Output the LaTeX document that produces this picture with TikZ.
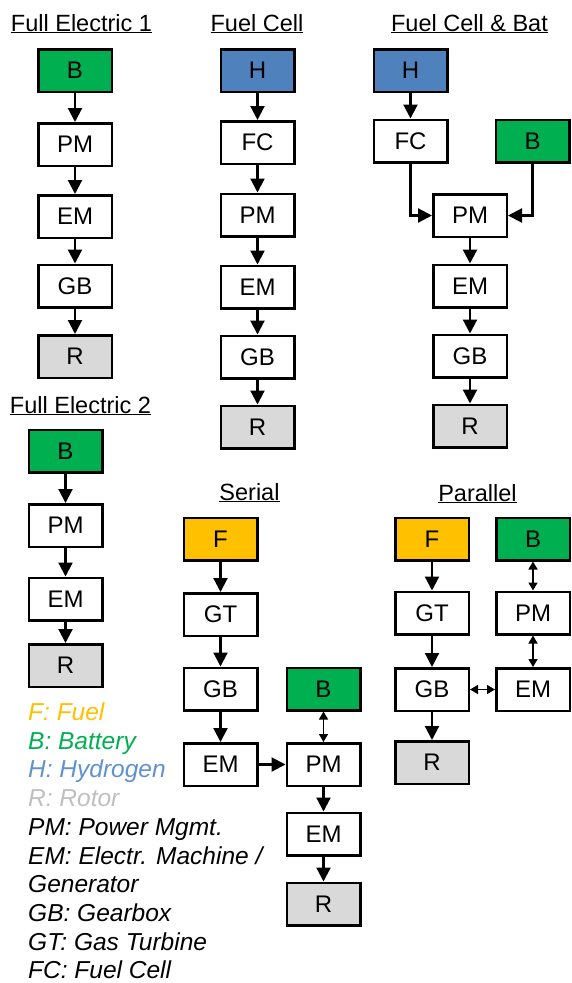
\documentclass[tikz,border=0pt]{standalone}
\usepackage{fontspec}
\setmainfont{Liberation Sans}
\usetikzlibrary{arrows.meta}
\definecolor{batgreen}{RGB}{0,176,80}
\definecolor{hydblue}{RGB}{79,129,189}
\definecolor{fuelorange}{RGB}{255,192,0}
\definecolor{rotorgray}{RGB}{217,217,217}
\definecolor{legblue}{RGB}{96,146,208}
\definecolor{leggray}{RGB}{191,191,191}
\begin{document}
\begin{tikzpicture}[x=1pt,y=-1pt,>={Triangle[width=14pt,length=14pt]},
	blk/.style={draw,line width=2.5pt,minimum width=73.5pt,minimum height=42.5pt,inner sep=0pt,font=\fontsize{24}{28}\selectfont},
	bat/.style={blk,fill=batgreen},
	hyd/.style={blk,fill=hydblue},
	fuel/.style={blk,fill=fuelorange},
	rot/.style={blk,fill=rotorgray},
	flow/.style={->,line width=2.2pt},
	both/.style={{Triangle[width=9pt,length=8pt]}-{Triangle[width=9pt,length=8pt]},line width=1.4pt},
	head/.style={anchor=base,font=\fontsize{23.5}{28}\selectfont},
	leg/.style={anchor=base west,inner sep=0pt,font=\fontsize{24.5}{28}\selectfont\itshape}]
		\useasboundingbox (0,0) rectangle (571,983);
		% Full Electric 1
		\node[head] (fe1t) at (81.5,31) {\underline{Full Electric 1}};
		\node[bat] (fe1b) at (75,70.5) {B};
		\node[blk] (fe1pm) at (75,144.5) {PM};
		\node[blk] (fe1em) at (75,216.5) {EM};
		\node[blk] (fe1gb) at (75,286) {GB};
		\node[rot] (fe1r) at (75,356.5) {R};
		% Fuel Cell
		\node[head] (fct) at (257,31) {\underline{Fuel Cell}};
		\node[hyd] (fch) at (257.5,70.5) {H};
		\node[blk] (fcfc) at (257.5,142.5) {FC};
		\node[blk] (fcpm) at (257.5,215) {PM};
		\node[blk] (fcem) at (257.5,287) {EM};
		\node[blk] (fcgb) at (257.5,357) {GB};
		\node[rot] (fcr) at (257.5,427) {R};
		% Fuel Cell & Bat
		\node[head] (fcbt) at (469.5,31) {\underline{Fuel Cell \& Bat}};
		\node[hyd] (fcbh) at (410.5,70.5) {H};
		\node[blk] (fcbfc) at (410.5,141) {FC};
		\node[bat] (fcbb) at (532.5,141) {B};
		\node[blk] (fcbpm) at (470,215.5) {PM};
		\node[blk] (fcbem) at (470,286) {EM};
		\node[blk] (fcbgb) at (470,356) {GB};
		\node[rot] (fcbr) at (470,426) {R};
		% Full Electric 2
		\node[head] (fe2t) at (80.5,413) {\underline{Full Electric 2}};
		\node[bat] (fe2b) at (65.5,451) {B};
		\node[blk] (fe2pm) at (65.5,525.5) {PM};
		\node[blk] (fe2em) at (65.5,599) {EM};
		\node[rot] (fe2r) at (65.5,665.5) {R};
		% Serial
		\node[head] (sert) at (249.5,500) {\underline{Serial}};
		\node[fuel] (serf) at (220.5,539) {F};
		\node[blk] (sergt) at (220.5,614.5) {GT};
		\node[blk] (sergb) at (220.5,689) {GB};
		\node[blk] (serem) at (220.5,764.5) {EM};
		\node[bat] (serb) at (323.5,689) {B};
		\node[blk] (serpm) at (323.5,764.5) {PM};
		\node[blk] (serem2) at (323.5,834) {EM};
		\node[rot] (serr) at (323.5,904) {R};
		% Parallel
		\node[head] (part) at (477.5,501) {\underline{Parallel}};
		\node[fuel] (parf) at (432,539) {F};
		\node[blk] (pargt) at (432,613) {GT};
		\node[blk] (pargb) at (432,689.5) {GB};
		\node[rot] (parr) at (432,762.5) {R};
		\node[bat] (parb) at (533,539) {B};
		\node[blk] (parpm) at (533,613) {PM};
		\node[blk] (parem) at (533,689.5) {EM};
		% connectors
		\foreach \a/\b in {fe1b/fe1pm,fe1pm/fe1em,fe1em/fe1gb,fe1gb/fe1r,
			fch/fcfc,fcfc/fcpm,fcpm/fcem,fcem/fcgb,fcgb/fcr,
			fcbh/fcbfc,fcbpm/fcbem,fcbem/fcbgb,fcbgb/fcbr,
			fe2b/fe2pm,fe2pm/fe2em,fe2em/fe2r,
			serf/sergt,sergt/sergb,sergb/serem,serem/serpm,serpm/serem2,serem2/serr,
			parf/pargt,pargt/pargb,pargb/parr}
			\draw[flow] (\a) -- (\b);
		\draw[flow] (fcbfc.south) |- (fcbpm.west);
		\draw[flow] (fcbb.south) |- (fcbpm.east);
		\draw[both] (serb) -- (serpm);
		\draw[both] (parb) -- (parpm);
		\draw[both] (parpm) -- (parem);
		\draw[both] (pargb) -- (parem);
		% legend
		\node[leg,text=fuelorange] (leg1) at (28,720) {F: Fuel};
		\node[leg,text=batgreen] (leg2) at (28,749) {B: Battery};
		\node[leg,text=legblue] (leg3) at (28,777.5) {H: Hydrogen};
		\node[leg,text=leggray] (leg4) at (28,806) {R: Rotor};
		\node[leg] (leg5) at (28,835) {PM: Power Mgmt.};
		\node[leg] (leg6) at (28,864) {EM: Electr. Machine /};
		\node[leg] (leg7) at (28,892.5) {Generator};
		\node[leg] (leg8) at (28,921.5) {GB: Gearbox};
		\node[leg] (leg9) at (28,950) {GT: Gas Turbine};
		\node[leg] (leg10) at (28,978) {FC: Fuel Cell};
	\end{tikzpicture}
\end{document}
